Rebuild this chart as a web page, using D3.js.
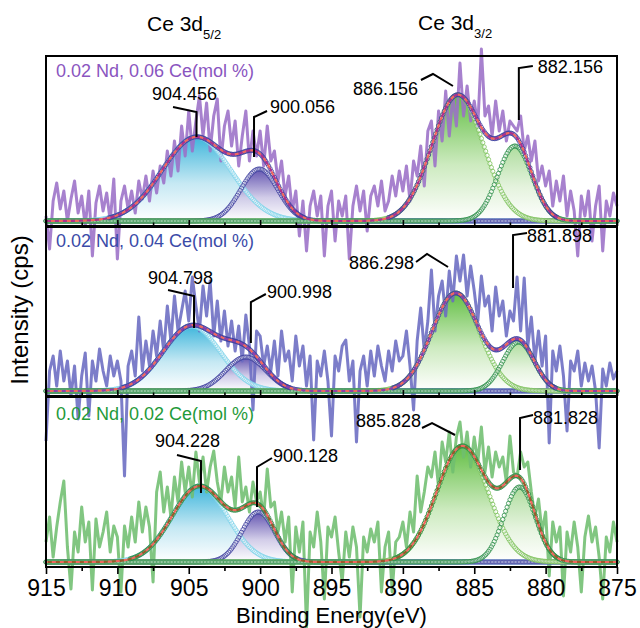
<!DOCTYPE html>
<html>
<head>
<meta charset="utf-8">
<script src="https://cdn.jsdelivr.net/npm/d3@7"></script>
<style>
  body { margin: 0; background: #fff; }
  svg { display: block; font-family: "Liberation Sans", Arial, sans-serif; }
</style>
</head>
<body>
<svg id="chart" width="640" height="628"></svg>
<script>
// ---- data (intensity in arbitrary units above the fit baseline) ----
const energyStart = 915;   // eV, first raw point
const energyStep = 0.25;   // eV between raw points (descending)

const sampleNames = ['0.02 Nd, 0.06 Ce(mol %)', '0.02 Nd, 0.04 Ce(mol %)', '0.02 Nd, 0.02 Ce(mol %)'];

const rawCe06 = [
  5, -28, 20, 38,  12, 30, 0, 22,  40, 8, 25, -5,  30, -35, 18, 35,  10, 28, 0, 42,
  -38, 20, 35, 12,  30, 8, 40, 22,  45, 20, 50, 28,  55, 38, 70, 45,  80, 50, 95, 65,
  110, 70, 100, 125,  85, 118, 70, 105,  122, 60, 95, 110,  75, 100, 55, 85,  110, 60, 90, 65,
  90, 55, 95, 60,  70, 40, 60, 25,  45, 10, 30, -15,  20, -30, 15, 30,  5, 25, -35, 15,
  30, -20, 20, 5,  25, -38, 15, 35,  10, 30, -10, 25,  35, 15, 40, 10,  20, 45, 25, 50,
  30, 55, 20, 60,  45, 75, 35, 90,  100, 55, 110, 80,  130, 85, 125, 95,  158, 105, 135, 100,
  120, 95, 172, 105,  115, 85, 120, 90,  110, 80, 100, 95,  90, 105, 70, 85,  60, 80, 40, 55,
  35, 50, 15, 40,  20, 45, 5, 30,  10, -35, 25, 5,  30, -20, 15, 35,  -30, 20, 5, 28,
  15
];

const rawCe04 = [
  -50, 20, 35, 5,  40, 10, 30, -5,  25, -28, 15, 38,  -25, 30, 10, 42,  20, 5, 35, 15,
  30, 10, -85, 25,  40, 15, 74, 20,  50, 25, 60, 35,  70, 40, 85, 50,  95, 60, 80, 100,
  70, 114, 85, 60,  105, 75, 110, 55,  90, 50, 80, 45,  70, 40, 65, 30,  76, 45, -19, 60,
  55, 25, 45, 20,  50, 15, 60, 30,  40, 10, 55, 25,  45, 5, 35, -49,  30, 15, 40, 10,
  -45, 35, 20, 45,  51, 10, 30, -51,  20, 35, 5, 40,  15, 45, 25, 10,  40, 20, 50, 30,
  35, 60, 25, -19,  50, 83, 40, 70,  121, 60, 95, 110,  75, 120, 90, 135,  110, 136, 95, 125,
  100, 70, 115, 85,  95, 60, 104, 75,  90, 55, 80, 70,  114, 60, 113, 45,  74, 30, 60, 25,
  55, -52, 40, 20,  45, 15, -40, 30,  20, 40, 5, 28,  10, 25, 0, -57,  22, 5, 28, 12,
  20
];

const rawCe02 = [
  20, 45, 5, 35,  60, 81, 15, -27,  30, 10, 55, 20,  40, -28, 43, 15,  30, 50, 10, 36,
  25, -30, 36, 15,  45, 20, 60, 30,  55, 35, -20, 70,  90, 50, 75, 45,  85, 60, 100, 70,
  95, 65, 110, 80,  105, 70, 95, 111,  80, 60, 95, 70,  85, 55, 105, 60,  75, 50, 80, 60,
  70, 45, 93, 55,  60, 30, 50, 20,  45, -30, 35, 10,  40, -65, 30, 15,  50, 20, -37, 35,
  25, 45, 10, -20,  30, 5, 35, 15,  -55, 25, 10, 33,  20, 40, -30, 15,  30, -30, 20, 25,
  40, 15, 50, 30,  86, 50, 70, 95,  85, 110, 75, 120,  100, 130, 90, 125,  140, 105, 130, 95,
  125, 100, 135, 90,  115, 85, 110, 95,  105, 80, 126, 90,  85, 110, 95, 100,  70, 45, 63, 30,
  50, -14, 40, 20,  35, -34, 30, 10,  40, 15, -30, 25,  46, 20, 35, 5,  -37, 25, 10, 40,
  20
];

// fitted Gaussian components: centre (eV), height, sigma (eV)
const peakCenters06 = [904.456, 900.056, 886.156, 882.156];
const peakHeights06 = [84, 52, 126, 75];
const peakSigmas06 = [2.4, 1.3, 1.8, 1.2];

const peakCenters04 = [904.798, 900.998, 886.298, 881.898];
const peakHeights04 = [65, 34, 98, 49];
const peakSigmas04 = [2.0, 1.4, 1.67, 1.1];

const peakCenters02 = [904.228, 900.128, 885.828, 881.828];
const peakHeights02 = [76, 50, 116, 75];
const peakSigmas02 = [1.93, 1.15, 1.8, 1.1];

const majorTicks = [915, 910, 905, 900, 895, 890, 885, 880, 875];
const minorTicks = [912.5, 907.5, 902.5, 897.5, 892.5, 887.5, 882.5, 877.5];

// ---- layout / styles ----
const plotLeft = 46, plotRight = 617;
const panelBoxes = [[56, 226], [227, 396], [397, 567]];
const rawColors = ['#9b6fc7', '#6a6bc1', '#6fbe6f'];
const nameColors = ['#8a55c0', '#3b4ba8', '#1f9a3a'];
const fillColors = ['#2aaed8', '#5242a8', '#52b830', '#a6d994'];
const fillMids = ['#bfe6f2', '#cdc7e6', '#c7e8b8', '#e2f2da'];
const ringColors = ['#7fd3ea', '#3d3f9e', '#7cc25a', '#2f8f4a'];
const envRingColors = ['#3d3f9e', '#3d3f9e', '#2f8f4a'];
const envDashColors = ['#b0308a', '#8e3fa8', '#9a5a2a'];

// label text / leader offsets in px: x relative to the peak centre, y relative to panel top
const labelLayout = [
  [{ tx: -44.5, ty: 44, lead: [[-23.5, 51], [0, 56], [0, 81]] },
   { tx: 10.7, ty: 57, lead: [[7.7, 55], [-5.3, 61], [-5.3, 101]] },
   { tx: -104.8, ty: 39, lead: [[-36.8, 24], [-24.8, 18], [-4.8, 30]] },
   { tx: 23, ty: 17, lead: [[18, 10], [4, 12], [4, 64]] }],
  [{ tx: -43.6, ty: 57, lead: [[-23.6, 63], [2.4, 69], [2.4, 101]] },
   { tx: 21, ty: 71, lead: [[20, 67], [5, 75], [5, 116]] },
   { tx: -106.7, ty: 42, lead: [[-39.7, 35], [-28.7, 27], [-7.7, 40]] },
   { tx: 8.5, ty: 15, lead: [[8.5, 6], [-5.5, 8], [-5.5, 61]] }],
  [{ tx: -44.8, ty: 50, lead: [[-22.8, 58], [1.2, 64], [1.2, 96]] },
   { tx: 14.7, ty: 65, lead: [[13.7, 61], [-1.3, 70], [-1.3, 110]] },
   { tx: -106.4, ty: 30, lead: [[-40.4, 31], [-30.4, 26], [-7.4, 38]] },
   { tx: 13.5, ty: 27, lead: [[13.5, 18], [0.5, 21], [0.5, 73]] }]
];
const nameBaselines = [21, 20, 23];

const samples = [
  { name: sampleNames[0], raw: rawCe06, centers: peakCenters06, heights: peakHeights06, sigmas: peakSigmas06 },
  { name: sampleNames[1], raw: rawCe04, centers: peakCenters04, heights: peakHeights04, sigmas: peakSigmas04 },
  { name: sampleNames[2], raw: rawCe02, centers: peakCenters02, heights: peakHeights02, sigmas: peakSigmas02 }
];

const svg = d3.select('#chart');
const defs = svg.append('defs');

const x = d3.scaleLinear().domain([915, 875]).range([plotLeft, plotRight]);
const fitGrid = d3.range(0, 401).map(i => 875 + i * 0.1);
const gauss = (e, c, h, s) => h * Math.exp(-((e - c) ** 2) / (2 * s * s));

const marks = svg.append('g');
const frames = svg.append('g');
const notes = svg.append('g');

samples.forEach((s, p) => {
  const [top, bottom] = panelBoxes[p];
  const baseline = bottom - 5;
  const y = d3.scaleLinear().domain([0, 170]).range([baseline, baseline - 170]);
  const g = marks.append('g').attr('class', 'panel');

  const comps = s.centers.map((c, k) => ({ c, h: s.heights[k], sg: s.sigmas[k], k }));
  const compVal = (d, e) => gauss(e, d.c, d.h, d.sg);
  const envVal = e => d3.sum(comps, d => compVal(d, e));

  // gradient fills under each component, fading to white at the baseline
  comps.forEach(d => {
    const grad = defs.append('linearGradient')
      .attr('id', `grad-${p}-${d.k}`)
      .attr('x1', 0).attr('y1', 0).attr('x2', 0).attr('y2', 1);
    grad.append('stop').attr('offset', '0%').attr('stop-color', fillColors[d.k]);
    grad.append('stop').attr('offset', '55%').attr('stop-color', fillMids[d.k]);
    grad.append('stop').attr('offset', '100%').attr('stop-color', '#ffffff');
  });

  g.append('g').selectAll('path')
    .data(comps)
    .enter()
    .append('path')
    .attr('d', d => d3.area()
      .x(e => x(e))
      .y0(y(0))
      .y1(e => y(compVal(d, e)))(fitGrid))
    .attr('fill', d => `url(#grad-${p}-${d.k})`)
    .attr('fill-opacity', 0.9);

  // raw spectrum
  g.append('path')
    .attr('d', d3.line()
      .x((v, i) => x(energyStart - i * energyStep))
      .y(v => y(v))(s.raw))
    .attr('fill', 'none')
    .attr('stroke', rawColors[p])
    .attr('stroke-width', 3)
    .attr('stroke-linejoin', 'round')
    .attr('opacity', 0.88);

  // open-circle component curves
  comps.forEach(d => {
    g.append('g').selectAll('circle')
      .data(fitGrid)
      .enter()
      .append('circle')
      .attr('cx', e => x(e))
      .attr('cy', e => y(compVal(d, e)))
      .attr('r', 2.1)
      .attr('fill', '#fff')
      .attr('fill-opacity', 0.45)
      .attr('stroke', ringColors[d.k])
      .attr('stroke-width', 0.8);
  });

  // envelope: open circles + two interleaved dashed lines
  g.append('g').selectAll('circle')
    .data(fitGrid.filter(e => envVal(e) > 3))
    .enter()
    .append('circle')
    .attr('cx', e => x(e))
    .attr('cy', e => y(envVal(e)))
    .attr('r', 2.1)
    .attr('fill', 'none')
    .attr('stroke', envRingColors[p])
    .attr('stroke-width', 0.8);

  const envLine = d3.line().x(e => x(e)).y(e => y(envVal(e)));
  g.append('path')
    .attr('d', envLine(fitGrid))
    .attr('fill', 'none')
    .attr('stroke', '#f2665e')
    .attr('stroke-width', 2.2)
    .attr('stroke-dasharray', '4,4');
  g.append('path')
    .attr('d', envLine(fitGrid))
    .attr('fill', 'none')
    .attr('stroke', envDashColors[p])
    .attr('stroke-width', 2.2)
    .attr('stroke-dasharray', '4,4')
    .attr('stroke-dashoffset', 4);

  // frame
  frames.append('rect')
    .attr('x', plotLeft).attr('y', top)
    .attr('width', plotRight - plotLeft).attr('height', bottom - top)
    .attr('fill', 'none')
    .attr('stroke', '#000')
    .attr('stroke-width', 2);

  const last = p === samples.length - 1;
  const axisMajor = d3.axisBottom(x).tickValues(majorTicks).tickSizeOuter(0)
    .tickSize(last ? 7 : -6).tickPadding(6)
    .tickFormat(last ? d3.format('d') : '');
  const axisMinor = d3.axisBottom(x).tickValues(minorTicks).tickSizeOuter(0)
    .tickSize(last ? 4 : -3.5).tickFormat('');

  [axisMajor, axisMinor].forEach(ax => {
    const ag = frames.append('g')
      .attr('transform', `translate(0,${bottom})`)
      .call(ax);
    ag.select('.domain').remove();
    ag.selectAll('line').attr('stroke', '#000').attr('stroke-width', 1.6);
    ag.selectAll('text')
      .attr('font-size', 23)
      .attr('font-family', '"Liberation Sans", Arial, sans-serif')
      .attr('fill', '#000');
  });

  // sample name
  notes.append('text')
    .attr('x', 56).attr('y', top + nameBaselines[p])
    .attr('font-size', 18)
    .attr('fill', nameColors[p])
    .text(s.name);

  // peak labels with leader lines
  comps.forEach(d => {
    const lay = labelLayout[p][d.k];
    const cx = x(d.c);
    notes.append('path')
      .attr('d', d3.line()(lay.lead.map(([dx, dy]) => [cx + dx, top + dy])))
      .attr('fill', 'none')
      .attr('stroke', '#000')
      .attr('stroke-width', 2);
    notes.append('text')
      .attr('x', cx + lay.tx).attr('y', top + lay.ty)
      .attr('font-size', 18)
      .attr('fill', '#000')
      .text(d.c.toFixed(3));
  });
});

// headings
const head1 = svg.append('text').attr('x', 147).attr('y', 31).attr('font-size', 21).text('Ce 3d');
head1.append('tspan').attr('font-size', 13).attr('dy', 8).text('5/2');
const head2 = svg.append('text').attr('x', 418).attr('y', 30).attr('font-size', 21).text('Ce 3d');
head2.append('tspan').attr('font-size', 13).attr('dy', 8).text('3/2');

// axis titles
svg.append('text')
  .attr('transform', 'translate(28,310) rotate(-90)')
  .attr('text-anchor', 'middle')
  .attr('font-size', 24)
  .text('Intensity (cps)');

svg.append('text')
  .attr('x', (plotLeft + plotRight) / 2).attr('y', 623)
  .attr('text-anchor', 'middle')
  .attr('font-size', 22)
  .text('Binding Energy(eV)');
</script>
</body>
</html>
